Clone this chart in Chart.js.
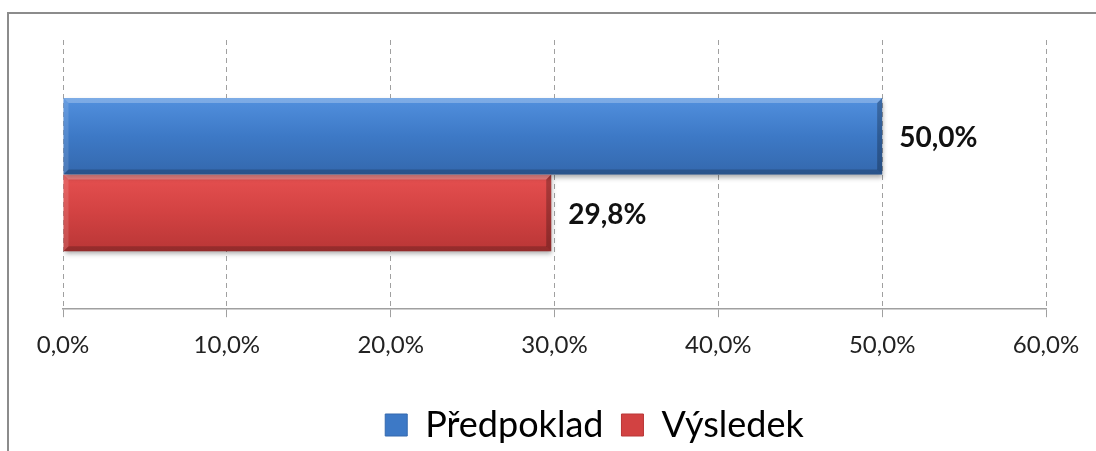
<!DOCTYPE html>
<html>
<head>
<meta charset="utf-8">
<script src="https://cdn.jsdelivr.net/npm/chart.js@4.4.0/dist/chart.umd.min.js"></script>
<style>
  html, body { margin: 0; padding: 0; background: #fff; overflow: hidden; }
  #wrap { position: relative; width: 1096px; height: 451px; overflow: hidden; }
  #frame { position: absolute; left: 7px; top: 12px; width: 1200px; height: 600px;
           border-left: 2px solid #8c8c8c; border-top: 2px solid #8c8c8c; pointer-events: none; }
</style>
</head>
<body>
<div id="wrap">
  <canvas id="graf" width="1096" height="453"></canvas>
  <div id="frame"></div>
</div>
<script>
const kategorie = [''];
const serie = ['Předpoklad', 'Výsledek'];
const predpoklad = [50.0];
const vysledek = [29.8];
const osaTicky = [0, 10, 20, 30, 40, 50, 60];

// barvy: [horni, stred, spodni]
const modra = ['#5290de', '#3d79c6', '#3468ad'];
const cervena = ['#e65050', '#d24242', '#b93636'];

const pct = v => v.toFixed(1).replace('.', ',') + '%';

// prechod + stin + zkoseni hran + popisky
const efekt = {
    id: 'efekt',
    afterLayout(chart) {
        // legenda je v originale posunuta doprava
        chart.legend.left += 40;
        chart.legend.right += 40;
    },
    beforeDatasetsDraw(chart) {
        const ctx = chart.ctx;
        chart.data.datasets.forEach((ds, i) => {
            chart.getDatasetMeta(i).data.forEach(el => {
                const top = el.y - el.height / 2, bot = el.y + el.height / 2;
                const g = ctx.createLinearGradient(0, top, 0, bot);
                g.addColorStop(0, ds.barvy[0]);
                g.addColorStop(0.5, ds.barvy[1]);
                g.addColorStop(1, ds.barvy[2]);
                el.options.backgroundColor = g;
            });
        });
    },
    beforeDatasetDraw(chart) {
        const ctx = chart.ctx;
        ctx.save();
        ctx.shadowColor = 'rgba(0,0,0,0.35)';
        ctx.shadowBlur = 5;
        ctx.shadowOffsetY = 3;
        ctx.shadowOffsetX = 1;
    },
    afterDatasetDraw(chart) {
        chart.ctx.restore();
    },
    afterDatasetsDraw(chart) {
        const ctx = chart.ctx;
        const b = 5;
        chart.data.datasets.forEach((ds, i) => {
            chart.getDatasetMeta(i).data.forEach((el, j) => {
                const x0 = el.base, x1 = el.x;
                const y0 = el.y - el.height / 2, y1 = el.y + el.height / 2;
                const poly = (pts, c) => {
                    ctx.beginPath();
                    ctx.moveTo(pts[0][0], pts[0][1]);
                    pts.slice(1).forEach(p => ctx.lineTo(p[0], p[1]));
                    ctx.closePath();
                    ctx.fillStyle = c;
                    ctx.fill();
                };
                ctx.save();
                poly([[x0, y0], [x1, y0], [x1 - b, y0 + b], [x0 + b, y0 + b]], 'rgba(255,255,255,0.25)');
                poly([[x0, y0], [x0 + b, y0 + b], [x0 + b, y1 - b], [x0, y1]], 'rgba(255,255,255,0.12)');
                poly([[x0, y1], [x0 + b, y1 - b], [x1 - b, y1 - b], [x1, y1]], 'rgba(0,0,0,0.2)');
                poly([[x1, y0], [x1, y1], [x1 - b, y1 - b], [x1 - b, y0 + b]], 'rgba(0,0,0,0.25)');
                // popisek hodnoty
                ctx.font = 'bold 28px Lato';
                ctx.fillStyle = '#111';
                ctx.textAlign = 'left';
                ctx.textBaseline = 'middle';
                ctx.fillText(pct(ds.data[j]), x1 + 17, el.y + 2);
                ctx.restore();
            });
        });
    }
};

const ctx = document.getElementById('graf');

new Chart(ctx, {
    type: 'bar',
    data: {
        labels: kategorie,
        datasets: [
            { label: serie[0], data: predpoklad, barvy: modra, backgroundColor: modra[1] },
            { label: serie[1], data: vysledek, barvy: cervena, backgroundColor: cervena[1] }
        ]
    },
    options: {
        indexAxis: 'y',
        responsive: false,
        animation: false,
        categoryPercentage: 0.57,
        barPercentage: 1,
        layout: { padding: { left: 63, right: 50, top: 40, bottom: 0 } },
        scales: {
            y: { display: false },
            x: {
                min: 0,
                max: 60,
                afterBuildTicks(scale) {
                    scale.ticks = osaTicky.map(v => ({ value: v }));
                },
                afterFit(scale) {
                    scale.height += 15;
                },
                grid: {
                    color: '#a0a0a0',
                    tickLength: 8,
                    tickColor: '#a0a0a0'
                },
                border: { display: true, color: '#a0a0a0', width: 1.5, dash: [5, 4] },
                ticks: {
                    padding: 14,
                    color: '#222',
                    font: { family: 'Lato', size: 24 },
                    callback: v => pct(v)
                }
            }
        },
        plugins: {
            legend: {
                position: 'bottom',
                labels: {
                    font: { family: 'Lato', size: 36 },
                    color: '#000',
                    boxWidth: 22,
                    boxHeight: 22,
                    padding: 18,
                    generateLabels(chart) {
                        return chart.data.datasets.map((ds, i) => ({
                            text: ds.label,
                            fillStyle: ds.barvy[1],
                            strokeStyle: ds.barvy[2],
                            lineWidth: 1,
                            datasetIndex: i
                        }));
                    }
                }
            },
            tooltip: { enabled: false }
        }
    },
    plugins: [efekt]
});
</script>
</body>
</html>
